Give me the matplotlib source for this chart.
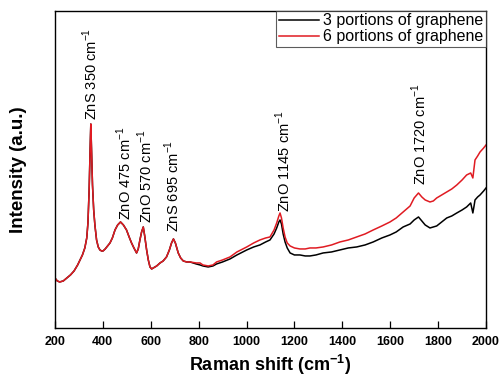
import matplotlib
matplotlib.use("Agg")
import matplotlib.pyplot as plt
import numpy as np

plt.rcParams['font.family'] = ['Liberation Sans', 'DejaVu Sans']
plt.rcParams['mathtext.fontset'] = 'custom'
plt.rcParams['mathtext.rm'] = 'Liberation Sans'
plt.rcParams['mathtext.bf'] = 'Liberation Sans:bold'

# 200-760 cm-1: both spectra lie on top of each other
shift_low = [200, 210, 220, 235, 250, 265, 280, 295, 305, 315, 325, 333, 338, 343, 347,
             350, 353, 357, 362, 367, 374, 381, 388, 395, 401, 410, 420, 430, 440, 451,
             462, 474, 486, 499, 510, 520, 530, 541, 548, 555, 562, 569, 575, 583, 590,
             597, 604, 611, 625, 639, 652, 666, 678, 687, 695, 703, 715, 725, 736, 750]
int_low = [50, 47, 46, 47, 50, 53, 57, 63, 68, 73, 80, 90, 105, 138, 178,
           204, 178, 143, 118, 103, 88, 81, 78, 77, 77, 79, 82, 85, 90, 98,
           103, 106, 103, 98, 91, 85, 80, 75, 79, 88, 96, 101, 92, 78, 68,
           61, 59, 60, 62, 65, 67, 71, 78, 85, 89, 85, 75, 70, 67, 66]

# 764-2000 cm-1: the two spectra separate
shift_high = [764, 790, 806, 818, 840, 860, 875, 900, 931, 960, 1001, 1030, 1056, 1080,
              1098, 1115, 1126, 1135, 1140, 1146, 1153, 1161, 1170, 1182, 1200, 1223,
              1245, 1265, 1290, 1320, 1355, 1390, 1425, 1460, 1495, 1529, 1565, 1599,
              1625, 1654, 1683, 1700, 1718, 1732, 1746, 1766, 1780, 1794, 1815, 1836,
              1857, 1878, 1900, 1919, 1936, 1945, 1950, 1954, 1965, 1975, 1990, 2000]
red_high = [66, 65, 65, 63, 62, 63, 66, 68, 71, 76, 81, 85, 88, 90,
            91, 98, 105, 112, 115, 110, 100, 91, 85, 82, 80, 79,
            79, 80, 80, 81, 83, 86, 88, 91, 94, 98, 102, 106,
            110, 116, 122, 130, 135, 131, 128, 126, 127, 130, 133, 136,
            139, 143, 148, 153, 155, 150, 160, 168, 172, 176, 180, 183]
black_high = [66, 64, 63, 62, 61, 62, 64, 66, 69, 73, 78, 81, 83, 86,
              88, 94, 100, 106, 108, 104, 94, 86, 80, 75, 73, 73,
              72, 72, 73, 75, 76, 78, 80, 81, 83, 86, 90, 93,
              96, 101, 104, 108, 111, 107, 103, 100, 101, 102, 106, 110,
              112, 115, 118, 121, 125, 115, 122, 128, 131, 133, 137, 140]

peak_labels = ['ZnS 350 cm$^{-1}$', 'ZnO 475 cm$^{-1}$', 'ZnO 570 cm$^{-1}$',
               'ZnS 695 cm$^{-1}$', 'ZnO 1145 cm$^{-1}$', 'ZnO 1720 cm$^{-1}$']
label_x = [350, 488, 576, 689, 1152, 1722]
label_y = [208, 108, 105, 96, 116, 143]

shift = np.array(shift_low + shift_high)
black = np.array(int_low + black_high)
red = np.array(int_low + red_high)

fig = plt.figure(figsize=(4.99, 3.80), dpi=100)
ax = fig.add_axes([0.110, 0.137, 0.864, 0.834])

ax.plot(shift, black, color='black', lw=1.1, label='3 portions of graphene')
ax.plot(shift, red, color='#e01b22', lw=1.1, label='6 portions of graphene')

for txt, x, y in zip(peak_labels, label_x, label_y):
    ax.text(x, y, txt, rotation=90, ha='center', va='bottom', fontsize=10.5)

ax.set_xlim(200, 2000)
ax.set_ylim(0, 317)
ax.set_xticks(np.arange(200, 2001, 200))
ax.set_yticks([])
ax.tick_params(axis='x', direction='in', length=5, width=0.9, labelsize=9, pad=6)
for lab in ax.get_xticklabels():
    lab.set_fontweight('bold')
for sp in ax.spines.values():
    sp.set_linewidth(1.0)

ax.set_xlabel(r'Raman shift (cm$^{\mathbf{-1}}$)', fontsize=13, fontweight='bold', labelpad=3)
ax.set_ylabel('Intensity (a.u.)', fontsize=13.5, fontweight='bold', labelpad=20)

leg = ax.legend(loc='upper right', fontsize=11.5, frameon=True, fancybox=False,
                borderaxespad=0, handlelength=2.5, handletextpad=0.3,
                borderpad=0.15, labelspacing=0.05)
leg.get_frame().set_edgecolor('#333333')
leg.get_frame().set_linewidth(0.8)

fig.savefig('out.png', dpi=100)
